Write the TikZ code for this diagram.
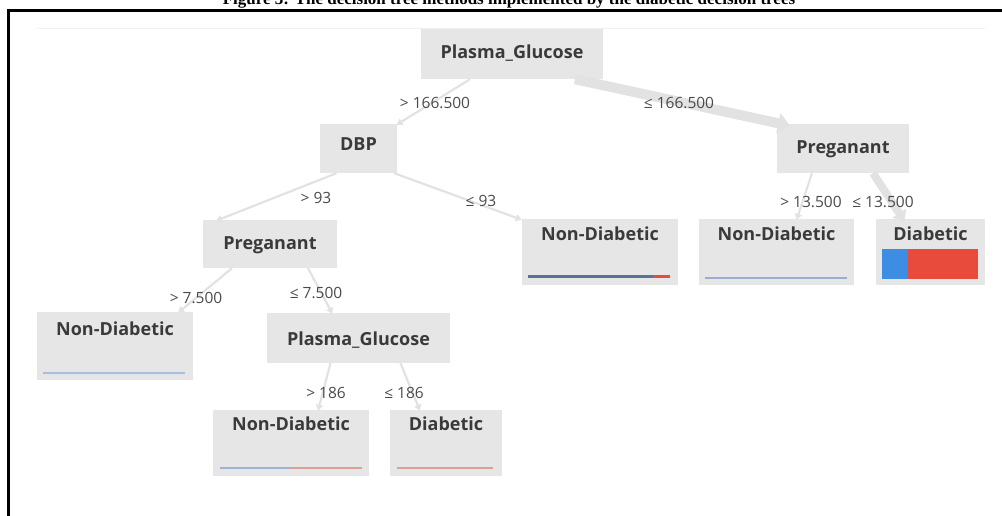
\documentclass[tikz,border=0pt]{standalone}
\usepackage{fontspec}
\setmainfont{Liberation Serif}
\newfontfamily\ui{Open Sans}
\usetikzlibrary{arrows.meta}
\definecolor{boxfill}{HTML}{E6E6E6}
\definecolor{edgegray}{HTML}{E2E2E2}
\definecolor{inkgray}{HTML}{3A3A3A}
\definecolor{lblgray}{HTML}{4A4A4A}
\definecolor{clsblue}{HTML}{3D8EE3}
\definecolor{clsred}{HTML}{E84B3C}
\definecolor{barslate}{HTML}{56739C}
\definecolor{barpale}{HTML}{A7BEDF}
\definecolor{barrose}{HTML}{D9A198}
\tikzset{
  box/.style={fill=boxfill, draw=none, inner sep=0pt, minimum width=#1},
  split/.style={box=#1, minimum height=50pt},
  leaf/.style={box=#1, minimum height=66pt},
  title/.style={font=\ui\bfseries\fontsize{18}{20}\selectfont, text=inkgray, inner sep=0pt},
  cond/.style={font=\ui\fontsize{15.5}{17}\selectfont, text=lblgray, inner sep=0pt},
  branch/.style={draw=edgegray, line width=2.2pt, -{Triangle[width=7pt,length=6pt]}},
  heavy/.style={draw=edgegray, line width=#1, -{Triangle[width=2*#1,length=1.2*#1]}},
}
\begin{document}
\begin{tikzpicture}[x=1pt,y=-1pt]
\useasboundingbox (0,0) rectangle (1002,516);
\clip (0,0) rectangle (1002,516);

% caption and frame
\node[font=\bfseries\fontsize{17}{19}\selectfont, anchor=base, inner sep=0pt] (cap) at (509,4.5)
  {Figure 3: The decision tree methods implemented by the diabetic decision trees};
\draw[line width=3pt] (8.5,520) -- (8.5,10.5) -- (1010,10.5);
\draw[black!6, line width=0.8pt] (37,28) -- (985,28);

% split boxes
\node[split=182] (root) at (512,54) {};
\node[split=77, minimum height=49pt] (dbp) at (358.5,148.5) {};
\node[split=132, minimum height=49pt] (pregR) at (843,148.5) {};
\node[split=134, minimum height=48pt] (pregL) at (270,244) {};
\node[split=183] (pgL) at (358.5,338) {};

% leaf boxes
\node[leaf=156] (ndMid) at (600,252) {};
\node[leaf=155] (ndR) at (776.5,252) {};
\node[leaf=109] (diabR) at (930.5,251.5) {};
\node[leaf=156, minimum height=68pt] (ndL) at (115,346) {};
\node[leaf=156] (ndB) at (291,443) {};
\node[leaf=112] (diabB) at (446,443) {};

% box titles
\node[title] (rootT) at ([yshift=1pt]root.center) {Plasma\_Glucose};
\node[title] (dbpT) at ([yshift=4pt]dbp.center) {DBP};
\node[title] (pregRT) at ([yshift=-1pt]pregR.center) {Preganant};
\node[title] (pregLT) at ([yshift=-1pt]pregL.center) {Preganant};
\node[title] (pgLT) at ([yshift=-2pt]pgL.center) {Plasma\_Glucose};
\node[title] (ndMidT) at ([yshift=-15pt]ndMid.north) {Non-Diabetic};
\node[title] (ndRT) at ([yshift=-15pt]ndR.north) {Non-Diabetic};
\node[title] (diabRT) at ([yshift=-15pt]diabR.north) {Diabetic};
\node[title] (ndLT) at ([yshift=-17pt]ndL.north) {Non-Diabetic};
\node[title] (ndBT) at ([yshift=-14pt]ndB.north) {Non-Diabetic};
\node[title] (diabBT) at ([yshift=-14pt]diabB.north) {Diabetic};

% class distribution bars
\draw[barslate, line width=3pt] ([xshift=6pt,yshift=9pt]ndMid.south west) -- ([xshift=-25pt,yshift=9pt]ndMid.south east);
\draw[clsred, line width=3pt] ([xshift=-25pt,yshift=9pt]ndMid.south east) -- ([xshift=-8pt,yshift=9pt]ndMid.south east);
\draw[barpale!80!barslate, line width=2pt] ([xshift=6pt,yshift=7pt]ndR.south west) -- ([xshift=-7pt,yshift=7pt]ndR.south east);
\fill[clsblue] ([xshift=6pt,yshift=6pt]diabR.south west) rectangle ([xshift=32pt,yshift=36pt]diabR.south west);
\fill[clsred] ([xshift=32pt,yshift=6pt]diabR.south west) rectangle ([xshift=-7pt,yshift=36pt]diabR.south east);
\draw[barpale, line width=2.5pt] ([xshift=6pt,yshift=7pt]ndL.south west) -- ([xshift=-8pt,yshift=7pt]ndL.south east);
\draw[barpale!85!barslate, line width=2.5pt] ([xshift=7pt,yshift=8pt]ndB.south west) -- ([xshift=77pt,yshift=8pt]ndB.south west);
\draw[barrose, line width=2.5pt] ([xshift=77pt,yshift=8pt]ndB.south west) -- ([xshift=-7pt,yshift=8pt]ndB.south east);
\draw[barrose, line width=2.5pt] ([xshift=7pt,yshift=8pt]diabB.south west) -- ([xshift=-9pt,yshift=8pt]diabB.south east);

% branches
\draw[heavy=10pt] ([xshift=63pt]root.south) -- ([xshift=-53pt,yshift=-2pt]pregR.north);
\draw[branch] ([xshift=-42pt]root.south) -- ([xshift=38pt,yshift=-1pt]dbp.north);
\draw[branch] ([xshift=-22pt]dbp.south) -- ([xshift=-54pt,yshift=-1pt]pregL.north);
\draw[branch] ([xshift=-3pt]dbp.south east) -- ([yshift=-1pt]ndMid.north west);
\draw[branch] ([xshift=-31pt]pregR.south) -- ([xshift=20pt,yshift=-1pt]ndR.north);
\draw[heavy=8pt] ([xshift=30pt]pregR.south) -- ([xshift=-26pt,yshift=-3pt]diabR.north);
\draw[branch] ([xshift=-38pt]pregL.south) -- ([xshift=63pt,yshift=-1pt]ndL.north);
\draw[branch] ([xshift=38pt]pregL.south) -- ([xshift=-26pt,yshift=-1pt]pgL.north);
\draw[branch] ([xshift=-28pt]pgL.south) -- ([xshift=27pt,yshift=-1pt]ndB.north);
\draw[branch] ([xshift=42pt]pgL.south) -- ([xshift=-26pt,yshift=-1pt]diabB.north);

% branch conditions
\node[cond] (c1) at (435,103) {> 166.500};
\node[cond] (c2) at (679,103) {≤ 166.500};
\node[cond] (c3) at (316,198) {> 93};
\node[cond] (c4) at (481,201) {≤ 93};
\node[cond] (c5) at (811,202) {> 13.500};
\node[cond] (c6) at (883,202) {≤ 13.500};
\node[cond] (c7) at (196,298) {> 7.500};
\node[cond] (c8) at (316,293) {≤ 7.500};
\node[cond] (c9) at (326,393) {> 186};
\node[cond] (c10) at (404,393) {≤ 186};
\end{tikzpicture}
\end{document}
